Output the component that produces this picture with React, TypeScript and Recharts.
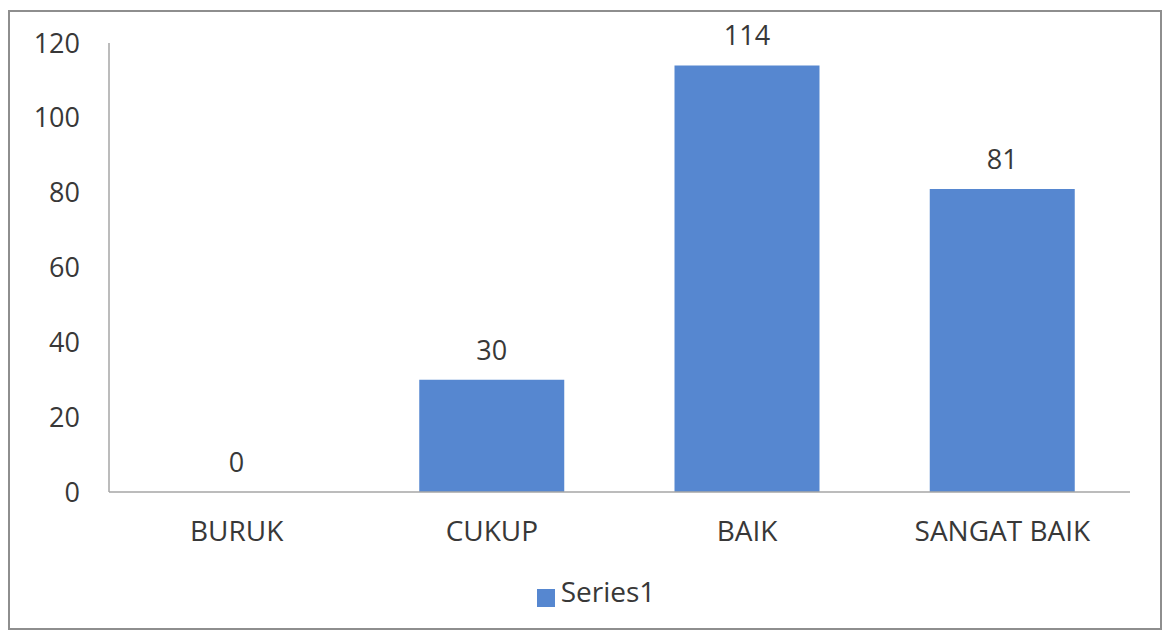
import React from 'react';
import { BarChart, Bar, XAxis, YAxis, Legend, LabelList } from 'recharts';

const categories = ['BURUK', 'CUKUP', 'BAIK', 'SANGAT BAIK'];
const series1 = [0, 30, 114, 81];
const yTicks = [0, 20, 40, 60, 80, 100, 120];

const data = categories.map((name, i) => ({ name, Series1: series1[i] }));

const font = '"Open Sans", "Noto Sans", sans-serif';
const textColor = '#383838';

// value above each bar (also drawn for zero-height bars)
const renderValue = (props: any) => {
  const { x, y, width, value } = props;
  if (x == null || y == null) return null;
  return (
    <text
      x={Number(x) + Number(width) / 2}
      y={Number(y) - 20}
      textAnchor="middle"
      fill={textColor}
      fontSize={27}
      fontFamily={font}
    >
      {value}
    </text>
  );
};

const App: React.FC = () => {
  return (
    <div style={{ position: 'absolute', left: 0, top: 0, width: 1164, height: 634, background: '#fff', fontFamily: font }}>
      {/* outer frame */}
      <div
        style={{
          position: 'absolute',
          left: 8,
          top: 10,
          width: 1150,
          height: 616,
          border: '2px solid #8e8e8e',
          pointerEvents: 'none',
        }}
      />
      <BarChart
        width={1164}
        height={634}
        data={data}
        margin={{ top: 43, right: 34, left: 0, bottom: 24 }}
        style={{ fontFamily: font }}
      >
        <XAxis
          dataKey="name"
          height={80}
          tickLine={false}
          tickSize={0}
          tickMargin={29}
          axisLine={{ stroke: '#a6a6a6', strokeWidth: 1.5 }}
          tick={{ fill: textColor, fontSize: 28 }}
        />
        <YAxis
          width={109}
          domain={[0, 120]}
          ticks={yTicks}
          tickLine={false}
          tickSize={0}
          tickMargin={29}
          axisLine={{ stroke: '#a6a6a6', strokeWidth: 1.5 }}
          tick={{ fill: textColor, fontSize: 27 }}
        />
        <Legend
          verticalAlign="bottom"
          iconType="square"
          iconSize={18}
          wrapperStyle={{ paddingLeft: 36 }}
          formatter={(value) => <span style={{ color: textColor, fontSize: 28, marginLeft: 2 }}>{value}</span>}
        />
        <Bar dataKey="Series1" fill="#5687d0" barSize={145} minPointSize={0.01} isAnimationActive={false}>
          <LabelList dataKey="Series1" content={renderValue} />
        </Bar>
      </BarChart>
    </div>
  );
};

export default App;
